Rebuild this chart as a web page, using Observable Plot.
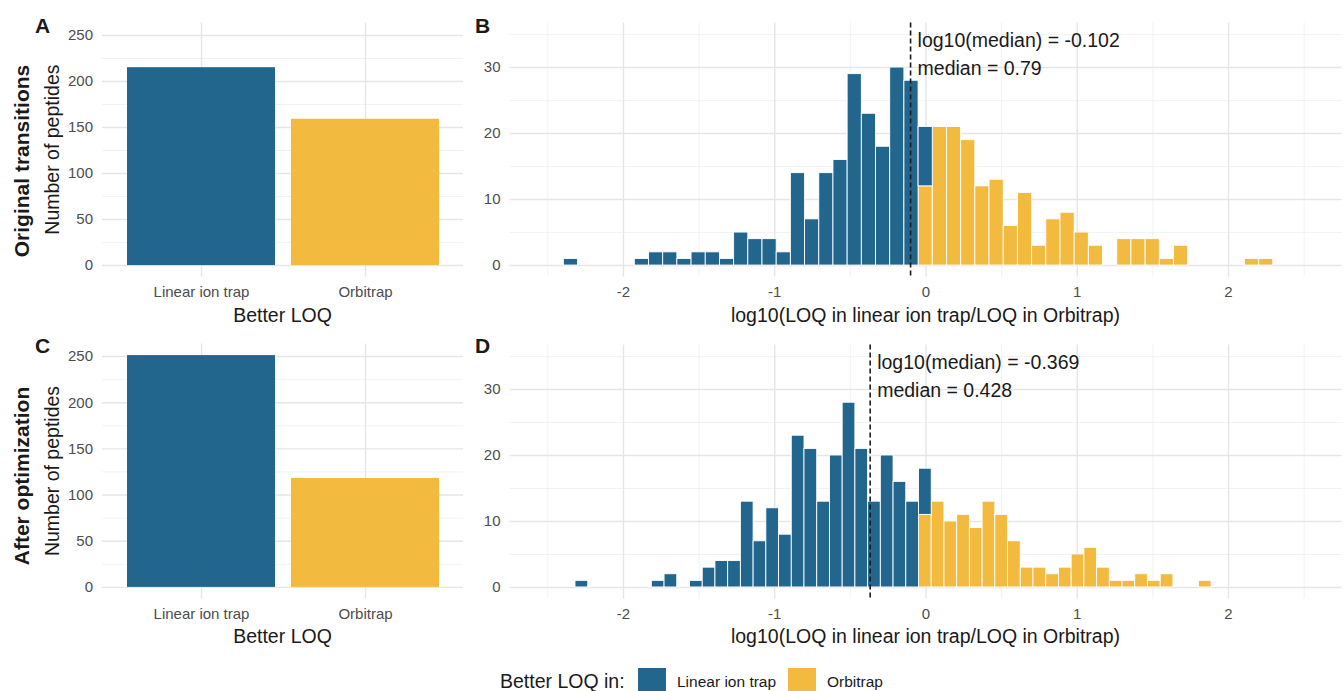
<!DOCTYPE html>
<html>
<head>
<meta charset="utf-8">
<script src="https://cdn.jsdelivr.net/npm/d3@7"></script>
<script src="https://cdn.jsdelivr.net/npm/@observablehq/plot@0.6"></script>
<style>
  html, body { margin: 0; padding: 0; background: #fff; overflow: hidden; }
  #root { position: relative; width: 1344px; height: 691px; overflow: hidden; font-family: 'Liberation Sans', Arial, Helvetica, sans-serif; }
  #root svg { position: absolute; overflow: visible; max-width: none; }
  .lg { position: absolute; white-space: nowrap; color: #1a1a1a; }
  .sw { position: absolute; width: 28px; height: 28px; }
</style>
</head>
<body>
<div id="root"></div>
<script>
// ---------------- data ----------------
const categories = ["Linear ion trap", "Orbitrap"];
const colors = ["#22668E", "#F3BA40"];

// Panels A / C: number of peptides with better LOQ
const countsA = [215, 159];
const countsC = [251, 118];

// Panel B histogram (original transitions): 50 bins
const binStartB = -2.394;
const binWidthB = 0.0938;
const linearB = [1,0,0,0,0,1,2,2,1,2, 2,1,5,4,4,2,14,7,14,16, 29,23,18,30,28,9,0,0,0,0, 0,0,0,0,0,0,0,0,0,0, 0,0,0,0,0,0,0,0,0,0];
const orbitrapB = [0,0,0,0,0,0,0,0,0,0, 0,0,0,0,0,0,0,0,0,0, 0,0,0,0,0,12,21,21,19,12, 13,6,11,3,7,8,5,3,0,4, 4,4,1,3,0,0,0,0,1,1];

// Panel D histogram (after optimization): 50 bins
const binStartD = -2.317;
const binWidthD = 0.0841;
const linearD = [1,0,0,0,0,0,1,2,0,1, 3,4,4,13,7,12,8,23,21,13, 20,28,21,13,20,16,13,7,0,0, 0,0,0,0,0,0,0,0,0,0, 0,0,0,0,0,0,0,0,0,0];
const orbitrapD = [0,0,0,0,0,0,0,0,0,0, 0,0,0,0,0,0,0,0,0,0, 0,0,0,0,0,0,0,11,13,10, 11,9,13,11,7,3,3,2,3,5, 6,3,1,1,2,1,2,0,0,1];

const medianB = -0.102;
const medianD = -0.369;
const annB = ["log10(median) = -0.102", "median = 0.79"];
const annD = ["log10(median) = -0.369", "median = 0.428"];
const annY = [34, 29.8];

// ticks
const barTicks = [0, 50, 100, 150, 200, 250];
const barMinor = [25, 75, 125, 175, 225];
const histYTicks = [0, 10, 20, 30];
const histYMinor = [5, 15, 25, 35];
const histXTicks = [-2, -1, 0, 1, 2];
const histXMinor = [-2.5, -1.5, -0.5, 0.5, 1.5, 2.5];

// ---------------- drawing ----------------
const FONT = "'Liberation Sans', Arial, Helvetica, sans-serif";
const MAJOR = {stroke: "#e6e6e6", strokeWidth: 1.4};
const MINOR = {stroke: "#efefef", strokeWidth: 0.8};
const root = document.getElementById("root");

function place(svg, left, top) {
  svg.style.left = left + "px";
  svg.style.top = top + "px";
  root.appendChild(svg);
}

function baseStyle() {
  return {fontSize: "15px", fontFamily: FONT, color: "#4d4d4d", background: "transparent", overflow: "visible"};
}

function barPanel(counts, mt, mb) {
  const data = categories.map((c, i) => ({cat: c, n: counts[i]}));
  return Plot.plot({
    width: 470, height: 300,
    marginLeft: 102, marginRight: 7, marginTop: mt, marginBottom: mb,
    style: baseStyle(),
    x: {domain: categories, paddingInner: 0.1, paddingOuter: 0.15, tickSize: 0, tickPadding: 9.5, label: null},
    y: {domain: [-12.55, 263.55], ticks: barTicks, tickSize: 0, tickPadding: 9.5, label: null},
    color: {domain: categories, range: colors},
    marks: [
      Plot.ruleY(barMinor, MINOR),
      Plot.ruleY(barTicks, MAJOR),
      Plot.ruleX(categories, MAJOR),
      Plot.barY(data, {x: "cat", y: "n", fill: "cat"})
    ]
  });
}

function histPanel(start, w, lin, orb, median, ann, mt, mb) {
  const rows = [];
  orb.forEach((n, i) => { if (n > 0) rows.push({x1: start + i * w, x2: start + (i + 1) * w, y1: 0, y2: n, g: "Orbitrap"}); });
  lin.forEach((n, i) => { if (n > 0) rows.push({x1: start + i * w, x2: start + (i + 1) * w, y1: orb[i], y2: orb[i] + n, g: "Linear ion trap"}); });
  const annRows = ann.map((t, i) => ({x: median, y: annY[i], t}));
  return Plot.plot({
    width: 874, height: 300,
    marginLeft: 39.5, marginRight: 2.5, marginTop: mt, marginBottom: mb,
    style: baseStyle(),
    x: {domain: [-2.75, 2.75], ticks: histXTicks, tickFormat: d => String(d), tickSize: 0, tickPadding: 9.5, label: null},
    y: {domain: [-1.75, 36.75], ticks: histYTicks, tickSize: 0, tickPadding: 9.5, label: null},
    color: {domain: categories, range: colors},
    marks: [
      Plot.ruleY(histYMinor, MINOR),
      Plot.ruleX(histXMinor, MINOR),
      Plot.ruleY(histYTicks, MAJOR),
      Plot.ruleX(histXTicks, MAJOR),
      Plot.rect(rows, {x1: "x1", x2: "x2", y1: "y1", y2: "y2", fill: "g", stroke: "white", strokeWidth: 0.9}),
      Plot.ruleX([median], {stroke: "#1a1a1a", strokeWidth: 1.6, strokeDasharray: "5,3"}),
      Plot.text(annRows, {x: "x", y: "y", text: "t", textAnchor: "start", dx: 7, fontSize: 19.5, fill: "#1a1a1a"})
    ]
  });
}

place(barPanel(countsA, 22.5, 23.4), 0, 0);
place(histPanel(binStartB, binWidthB, linearB, orbitrapB, medianB, annB, 22.5, 23.4), 470, 0);
place(barPanel(countsC, 23.5, 21.5), 0, 320);
place(histPanel(binStartD, binWidthD, linearD, orbitrapD, medianD, annD, 24.5, 21.5), 470, 320);

// ---------------- static text overlay ----------------
const texts = [
  {t: "A", x: 35, y: 33, size: 21, bold: true},
  {t: "B", x: 475, y: 33, size: 21, bold: true},
  {t: "C", x: 35, y: 353, size: 21, bold: true},
  {t: "D", x: 475, y: 353, size: 21, bold: true},
  {t: "Original transitions", x: 28.5, y: 161, size: 21, bold: true, rot: true, anchor: "middle"},
  {t: "After optimization", x: 28.5, y: 476, size: 21, bold: true, rot: true, anchor: "middle"},
  {t: "Number of peptides", x: 59, y: 149.6, size: 19.5, rot: true, anchor: "middle"},
  {t: "Number of peptides", x: 59, y: 471, size: 19.5, rot: true, anchor: "middle"},
  {t: "Better LOQ", x: 282.5, y: 322, size: 19.5, anchor: "middle"},
  {t: "Better LOQ", x: 282.5, y: 642.5, size: 19.5, anchor: "middle"},
  {t: "log10(LOQ in linear ion trap/LOQ in Orbitrap)", x: 925.5, y: 321.7, size: 19.5, anchor: "middle"},
  {t: "log10(LOQ in linear ion trap/LOQ in Orbitrap)", x: 925.5, y: 642.5, size: 19.5, anchor: "middle"},
  {t: "Better LOQ in:", x: 500, y: 688, size: 19.5},
  {t: "Linear ion trap", x: 677, y: 687, size: 15.5},
  {t: "Orbitrap", x: 827, y: 687, size: 15.5}
];
const ov = d3.create("svg").attr("width", 1344).attr("height", 691)
  .style("left", "0px").style("top", "0px").style("pointer-events", "none")
  .attr("font-family", FONT);
for (const d of texts) {
  const tx = ov.append("text")
    .attr("text-anchor", d.anchor || "start")
    .attr("font-size", d.size)
    .attr("font-weight", d.bold ? "bold" : "normal")
    .attr("fill", "#1a1a1a")
    .text(d.t);
  if (d.rot) tx.attr("transform", `translate(${d.x},${d.y}) rotate(-90)`);
  else tx.attr("x", d.x).attr("y", d.y);
}

// ---------------- legend swatches ----------------
const swLeft = [638, 788];
categories.forEach((c, i) => {
  const el = document.createElement("div");
  el.className = "sw";
  el.style.left = swLeft[i] + "px";
  el.style.top = "668px";
  el.style.background = colors[i];
  root.appendChild(el);
});
root.appendChild(ov.node());
</script>
</body>
</html>
